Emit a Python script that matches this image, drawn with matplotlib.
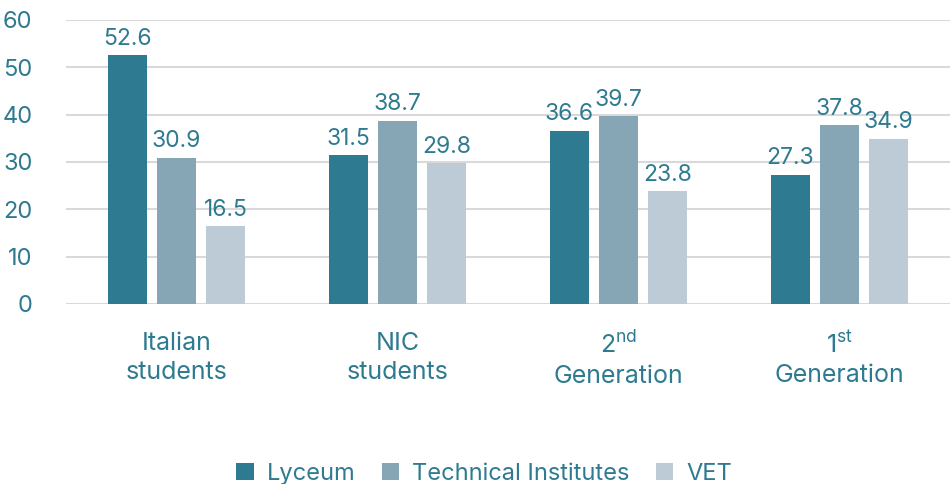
import numpy as np
import matplotlib
matplotlib.use("Agg")
import matplotlib.pyplot as plt

plt.rcParams['font.family'] = ['Inter', 'DejaVu Sans']
plt.rcParams['mathtext.fontset'] = 'custom'
plt.rcParams['mathtext.rm'] = 'Inter'

categories = ['Italian\nstudents', 'NIC\nstudents',
              '2$^{\\mathrm{nd}}$\nGeneration', '1$^{\\mathrm{st}}$\nGeneration']
series = ['Lyceum', 'Technical Institutes', 'VET']
lyceum = [52.6, 31.5, 36.6, 27.3]
technical = [30.9, 38.7, 39.7, 37.8]
vet = [16.5, 29.8, 23.8, 34.9]
colors = ['#2E7A90', '#86A5B5', '#BDCBD6']
text_color = '#2E7A90'

fig = plt.figure(figsize=(9.53, 4.84), dpi=100)
ax = fig.add_axes([0.069, 0.372, 0.928, 0.587])

x = np.arange(len(categories))
width = 0.176
offset = 0.222
for i, (vals, name) in enumerate(zip([lyceum, technical, vet], series)):
    bars = ax.bar(x + (i - 1) * offset, vals, width, color=colors[i], label=name, zorder=3)
    for b, v in zip(bars, vals):
        ax.text(b.get_x() + b.get_width() / 2, v + 1.1, f'{v:.1f}', ha='center', va='bottom',
                fontsize=16.5, color=text_color)

ax.set_ylim(0, 60)
ax.set_xlim(-0.5, 3.5)
ax.set_yticks(range(0, 61, 10))
ax.yaxis.grid(True, color='#D9D9D9', linewidth=1.5, zorder=0)
ax.set_xticks(x)
ax.set_xticklabels(categories, fontsize=18, color=text_color, linespacing=1.35)
ax.tick_params(axis='x', length=0, pad=20)
ax.tick_params(axis='y', length=0, pad=24, labelsize=17, labelcolor=text_color)
for s in ax.spines.values():
    s.set_visible(False)

fig.legend(loc='lower center', bbox_to_anchor=(0.508, -0.045), ncol=3, frameon=False,
           fontsize=17, labelcolor=text_color, handlelength=0.75, handleheight=0.75,
           handletextpad=0.55, columnspacing=1.1)

fig.savefig('out.png', dpi=100)
